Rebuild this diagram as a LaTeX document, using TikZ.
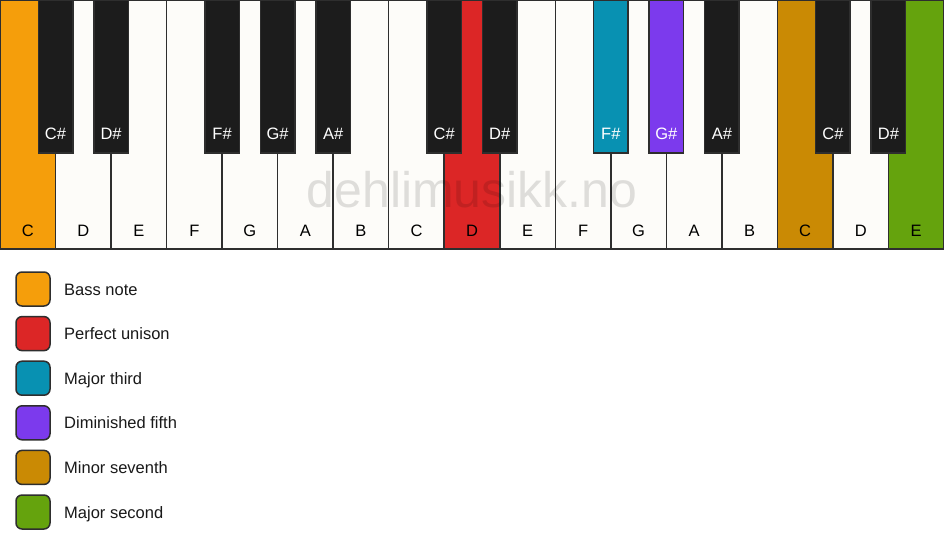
\documentclass[tikz,border=0pt]{standalone}
\usepackage{fontspec}
\setmainfont{Liberation Sans}
\definecolor{keywhite}{HTML}{FDFCF9}
\definecolor{keyblack}{HTML}{1C1C1C}
\definecolor{keyline}{HTML}{2E2E2E}
\definecolor{bass}{HTML}{F59E0B}
\definecolor{unison}{HTML}{DC2626}
\definecolor{third}{HTML}{0891B2}
\definecolor{dimfifth}{HTML}{7C3AED}
\definecolor{minseventh}{HTML}{CA8A04}
\definecolor{majsecond}{HTML}{65A30D}
\begin{document}
\begin{tikzpicture}[x=1pt,y=-1pt,
  whitekey/.style={draw=keyline, line width=1.5pt, minimum width=55.53pt, minimum height=249pt, anchor=north west, inner sep=0pt, outer sep=0pt},
  blackkey/.style={draw=keyline, line width=1.5pt, minimum width=34.5pt, minimum height=153pt, anchor=north west, inner sep=0pt, outer sep=0pt},
  wlabel/.style={anchor=base, inner sep=0pt, font=\fontsize{16.5}{19}\selectfont, text=black},
  blabel/.style={anchor=base, inner sep=0pt, font=\fontsize{16.5}{19}\selectfont, text=white},
  legbox/.style={draw=keyline, line width=1.5pt, rounded corners=6pt, minimum width=34pt, minimum height=34pt, inner sep=0pt},
  legtext/.style={anchor=base west, inner sep=0pt, font=\fontsize{16.5}{19}\selectfont, text=black!90},
  watermark/.style={anchor=base, inner sep=0pt, font=\fontsize{50}{60}\selectfont, text=black, text opacity=0.12}
]
\useasboundingbox (0,0) rectangle (944,550);
\fill[white] (0,0) rectangle (944,550);
% white keys
\foreach \n/\c [count=\i from 0] in {C/bass,D/keywhite,E/keywhite,F/keywhite,G/keywhite,A/keywhite,B/keywhite,C/keywhite,D/unison,E/keywhite,F/keywhite,G/keywhite,A/keywhite,B/keywhite,C/minseventh,D/keywhite,E/majsecond}{
  \node[whitekey, fill=\c] (w\i) at ({\i*55.529},0) {};
}
% black keys
\foreach \b/\n/\c in {1/C/keyblack,2/D/keyblack,4/F/keyblack,5/G/keyblack,6/A/keyblack,8/C/keyblack,9/D/keyblack,11/F/third,12/G/dimfifth,13/A/keyblack,15/C/keyblack,16/D/keyblack}{
  \node[blackkey, fill=\c] (b\b) at ({\b*55.529-17.25},0) {};
  \node[blabel] (lb\b) at ({\b*55.529},139) {\n\#};
}
% watermark
\node[watermark] (wm) at (472,207) {dehlimusikk.no};
% white key labels
\foreach \n [count=\i from 0] in {C,D,E,F,G,A,B,C,D,E,F,G,A,B,C,D,E}{
  \node[wlabel] (lw\i) at ({(\i+0.5)*55.529},236) {\n};
}
% legend
\foreach \c/\t [count=\i from 0] in {bass/Bass note,unison/Perfect unison,third/Major third,dimfifth/Diminished fifth,minseventh/Minor seventh,majsecond/Major second}{
  \node[legbox, fill=\c] (lg\i) at (33,{289+\i*44.6}) {};
  \node[legtext] (lt\i) at (64,{289+\i*44.6+6}) {\t};
}
\end{tikzpicture}
\end{document}
